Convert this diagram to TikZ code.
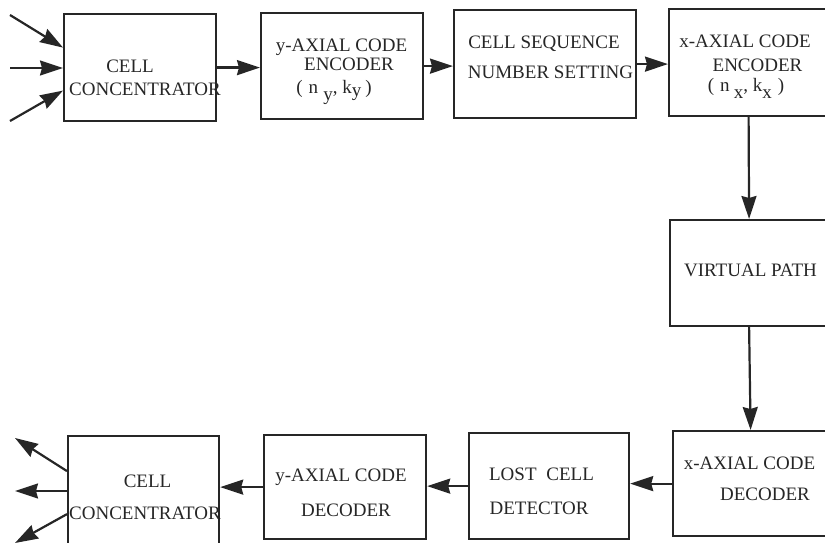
\documentclass[tikz,border=0pt]{standalone}
\usepackage{fontspec}
\setmainfont{Liberation Serif}
\usetikzlibrary{arrows.meta}
\definecolor{ink}{HTML}{262626}
\begin{document}
\begin{tikzpicture}[x=1pt,y=-1pt,
  box/.style={draw=ink, line width=2.2pt, inner sep=0pt, anchor=north west},
  txt/.style={font=\fontsize{19}{21}\selectfont, text=ink, inner sep=0pt},
  arr/.style={draw=ink, line width=2.2pt, -{Stealth[length=23pt,width=15pt,inset=2pt]}}]
\useasboundingbox (0,0) rectangle (825,543);
\clip (0,0) rectangle (825,543);
% boxes
\node[box, minimum width=152pt, minimum height=107pt] (c1) at (63,13) {};
\node[box, minimum width=162pt, minimum height=106pt] (ye) at (260,12) {};
\node[box, minimum width=182pt, minimum height=108pt] (cs) at (453,9) {};
\node[box, minimum width=159pt, minimum height=107pt] (xe) at (668,8) {};
\node[box, minimum width=158pt, minimum height=106pt] (vp) at (669,219) {};
\node[box, minimum width=155pt, minimum height=105pt] (xd) at (672,430) {};
\node[box, minimum width=160pt, minimum height=106pt] (lc) at (468,432) {};
\node[box, minimum width=162pt, minimum height=104pt] (yd) at (263,434) {};
\node[box, minimum width=151pt, minimum height=114pt] (c2) at (67,435) {};
% texts
\node[txt] (t1a) at (130,66) {CELL};
\node[txt] (t1b) at (145,89) {CONCENTRATOR};
\node[txt] (t2a) at (341.5,47) {y-AXIAL CODE};
\node[txt] (t2b) at (349,64) {ENCODER};
\node[txt] (t2c) at (334,92) {(\hspace{6pt}n\hspace{5pt}\raisebox{-0.8ex}{y}, k\raisebox{-0.45ex}{y}\hspace{4pt})};
\node[txt] (t3a) at (544,43.5) {CELL SEQUENCE};
\node[txt] (t3b) at (550.5,72) {NUMBER SETTING};
\node[txt] (t4a) at (745,41) {x-AXIAL CODE};
\node[txt] (t4b) at (757.5,65) {ENCODER};
\node[txt] (t4c) at (746,88) {(\hspace{6pt}n\hspace{4pt}\raisebox{-0.8ex}{x}, k\raisebox{-0.8ex}{x}\hspace{6pt})};
\node[txt] (t5) at (750.5,270) {VIRTUAL PATH};
\node[txt] (t6a) at (749.5,463) {x-AXIAL CODE};
\node[txt] (t6b) at (765,494) {DECODER};
\node[txt] (t7a) at (541.5,474) {LOST\hspace{5pt} CELL};
\node[txt] (t7b) at (539,508) {DETECTOR};
\node[txt] (t8a) at (341,477) {y-AXIAL CODE};
\node[txt] (t8b) at (346,510) {DECODER};
\node[txt] (t9a) at (147.5,481) {CELL};
\node[txt] (t9b) at (145,513) {CONCENTRATOR};
% free ends
\coordinate (i1) at (10,15);
\coordinate (i2) at (10,68);
\coordinate (i3) at (10,121);
\coordinate (o1) at (15,438);
\coordinate (o2) at (15,491);
\coordinate (o3) at (15,543);
% connectors
\draw[arr] (i1) -- ([yshift=20pt]c1.west);
\draw[arr] (i2) -- (i2 -| c1.west);
\draw[arr] (i3) -- ([yshift=-23pt]c1.west);
\draw[arr] (c1.east) -- (c1.east -| ye.west);
\draw[arr] (ye.east) -- (ye.east -| cs.west);
\draw[arr] (cs.east) -- (cs.east -| xe.west);
\draw[arr] (xe.south) -- (vp.north);
\draw[arr] (vp.south) -- (xd.north);
\draw[arr] (xd.west) -- (xd.west -| lc.east);
\draw[arr] (lc.west) -- (lc.west -| yd.east);
\draw[arr] (yd.west) -- (yd.west -| c2.east);
\draw[arr] ([yshift=22pt]c2.west) -- (o1);
\draw[arr] (c2.west |- o2) -- (o2);
\draw[arr] ([yshift=-21pt]c2.west) -- (o3);
\end{tikzpicture}
\end{document}
